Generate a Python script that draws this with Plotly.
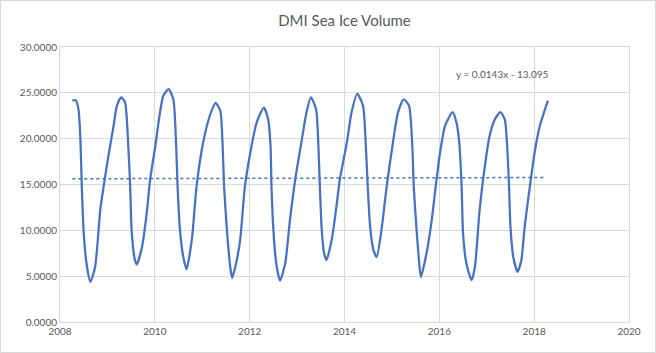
import plotly.graph_objects as go

years = [2008.26, 2008.33, 2008.39, 2008.43, 2008.46, 2008.50, 2008.57, 2008.64, 2008.74, 2008.85,
         2008.92, 2009.02, 2009.13, 2009.20, 2009.29, 2009.37, 2009.44, 2009.48, 2009.51, 2009.58,
         2009.62, 2009.73, 2009.83, 2009.90, 2010.01, 2010.11, 2010.18, 2010.29, 2010.39, 2010.45,
         2010.48, 2010.53, 2010.60, 2010.67, 2010.78, 2010.88, 2011.02, 2011.16, 2011.28, 2011.38,
         2011.43, 2011.46, 2011.52, 2011.59, 2011.63, 2011.73, 2011.80, 2011.90, 2012.04, 2012.15,
         2012.30, 2012.39, 2012.44, 2012.46, 2012.50, 2012.56, 2012.64, 2012.75, 2012.85, 2012.96,
         2013.10, 2013.20, 2013.29, 2013.40, 2013.45, 2013.48, 2013.52, 2013.57, 2013.62, 2013.73,
         2013.83, 2013.90, 2014.05, 2014.15, 2014.27, 2014.39, 2014.45, 2014.49, 2014.54, 2014.61,
         2014.68, 2014.78, 2014.89, 2015.03, 2015.13, 2015.25, 2015.36, 2015.43, 2015.46, 2015.52,
         2015.57, 2015.61, 2015.73, 2015.84, 2015.94, 2016.01, 2016.12, 2016.28, 2016.36, 2016.42,
         2016.47, 2016.50, 2016.57, 2016.68, 2016.75, 2016.85, 2016.96, 2017.06, 2017.17, 2017.29,
         2017.38, 2017.43, 2017.47, 2017.50, 2017.56, 2017.65, 2017.73, 2017.80, 2017.91, 2018.01,
         2018.12, 2018.29]
volume = [24.15, 24.2, 23.2, 20.0, 14.8, 9.7, 6.0, 4.37, 6.0, 12.25,
          14.8, 18.1, 21.4, 23.6, 24.5, 24.0, 19.2, 14.8, 10.05, 6.76,
          6.28, 8.2, 11.9, 15.5, 19.2, 22.9, 24.7, 25.4, 24.3, 19.2,
          14.8, 10.05, 7.1, 5.77, 8.96, 14.8, 19.6, 22.5, 23.9, 23.05,
          19.2, 14.8, 10.05, 6.0, 4.8, 6.8, 8.96, 14.8, 19.2, 21.8,
          23.4, 22.1, 19.2, 14.8, 10.05, 6.4, 4.5, 6.4, 11.15, 15.5,
          19.9, 22.9, 24.5, 23.2, 19.2, 14.8, 10.05, 7.5, 6.76, 8.96,
          12.6, 15.5, 19.6, 22.9, 24.9, 23.6, 19.2, 14.8, 10.4, 7.86,
          7.1, 10.05, 14.8, 19.9, 22.9, 24.3, 23.6, 19.2, 14.8, 10.05,
          6.76, 4.9, 7.5, 11.15, 15.5, 18.3, 21.4, 22.9, 21.8, 19.6,
          14.8, 9.7, 6.4, 4.56, 6.0, 12.25, 17.0, 20.3, 22.1, 22.9,
          22.1, 19.2, 14.8, 10.4, 7.1, 5.47, 6.76, 10.4, 14.8, 18.5,
          21.4, 24.15]

trend_slope = 0.0143
trend_intercept = -13.095
trend_x = [2008.26, 2018.25]
trend_y = [trend_slope * x + trend_intercept for x in trend_x]

x_ticks = [2008, 2010, 2012, 2014, 2016, 2018, 2020]
y_ticks = [0, 5, 10, 15, 20, 25, 30]

blue = "#4472C4"
grid = "#d9d9d9"
txt = "#595959"
font_family = "Lato, 'Open Sans', sans-serif"

fig = go.Figure()
fig.add_trace(go.Scatter(x=years, y=volume, mode="lines",
                         line=dict(color=blue, width=2.25, shape="spline", smoothing=0.6),
                         showlegend=False, hoverinfo="skip"))
fig.add_trace(go.Scatter(x=trend_x, y=trend_y, mode="lines",
                         line=dict(color=blue, width=1.5, dash="dot"),
                         showlegend=False, hoverinfo="skip"))

fig.add_annotation(x=2017.34, y=27.1, xref="x", yref="y",
                   text=f"y = {trend_slope}x - {abs(trend_intercept)}",
                   showarrow=False, font=dict(size=10, color=txt, family=font_family))

L, R, T, B = 60, 27, 47, 31
W, H = 656, 353
pw, ph = W - L - R, H - T - B
fig.add_shape(type="rect", xref="paper", yref="paper",
              x0=-(L - 0.5) / pw, x1=1 + (R - 0.5) / pw,
              y0=-(B - 0.5) / ph, y1=1 + (T - 0.5) / ph,
              line=dict(color=grid, width=1), layer="below")

fig.update_layout(
    width=W, height=H,
    margin=dict(l=L, r=R, t=T, b=B),
    paper_bgcolor="white", plot_bgcolor="white",
    title=dict(text="DMI Sea Ice Volume", x=0.5, xref="paper", xanchor="center",
               y=1 - 21 / H, yref="container", yanchor="middle",
               font=dict(size=15, color=txt, family=font_family)),
    xaxis=dict(range=[2008, 2020], tickvals=x_ticks, ticktext=[str(t) for t in x_ticks],
               showgrid=True, gridcolor=grid, gridwidth=1, zeroline=False,
               showline=True, linecolor=grid, mirror=True,
               tickfont=dict(size=10, color=txt, family=font_family), ticks=""),
    yaxis=dict(range=[0, 30], tickvals=y_ticks, tickformat=".4f",
               showgrid=True, gridcolor=grid, gridwidth=1, zeroline=False,
               showline=True, linecolor=grid, mirror=True,
               tickfont=dict(size=10, color=txt, family=font_family), ticks=""),
)

fig.write_html("out.html")
